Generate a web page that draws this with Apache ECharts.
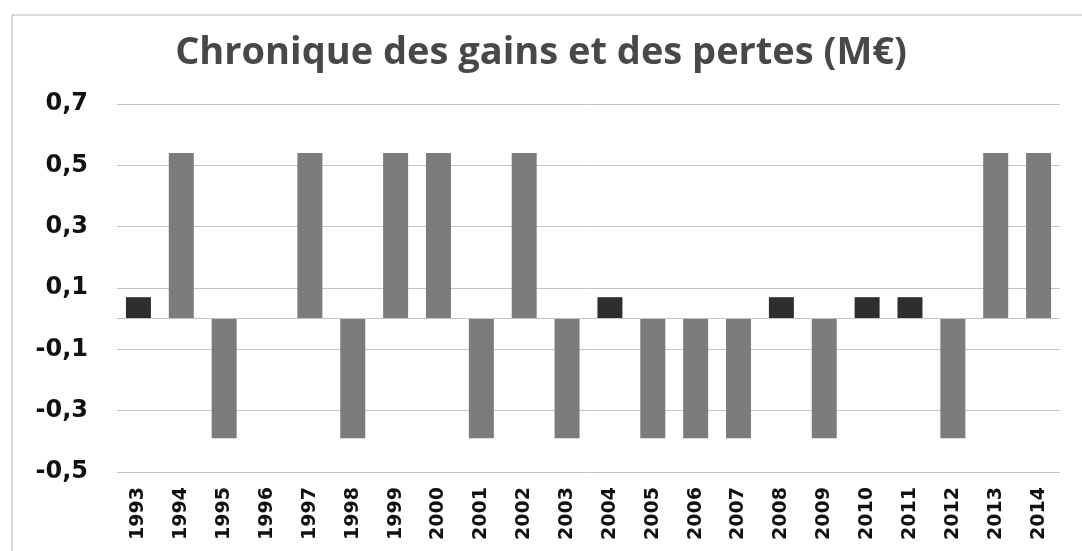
<!DOCTYPE html>
<html>
<head>
<meta charset="utf-8">
<script src="https://cdn.jsdelivr.net/npm/echarts@6/dist/echarts.min.js"></script>
<style>
  html, body { margin: 0; padding: 0; background: #fff; }
  #chart { width: 1082px; height: 551px; }
</style>
</head>
<body>
<div id="chart"></div>
<script>
// années
const annees = ['1993', '1994', '1995', '1996', '1997', '1998', '1999', '2000', '2001', '2002', '2003',
  '2004', '2005', '2006', '2007', '2008', '2009', '2010', '2011', '2012', '2013', '2014']

// gains importants / pertes (barres grises)
const gainsPertes = [null, 0.54, -0.39, null, 0.54, -0.39, 0.54, 0.54, -0.39, 0.54, -0.39,
  null, -0.39, -0.39, -0.39, null, -0.39, null, null, -0.39, 0.54, 0.54]

// petits gains (barres foncées)
const petitsGains = [0.07, null, null, null, null, null, null, null, null, null, null,
  0.07, null, null, null, 0.07, null, 0.07, 0.07, null, null, null]

const yTicks = [-0.5, -0.3, -0.1, 0.1, 0.3, 0.5, 0.7]

const chart = echarts.init(document.getElementById('chart'), null, { renderer: 'canvas' })

chart.setOption({
  animation: false,
  title: {
    text: 'Chronique des gains et des pertes (M€)',
    left: 'center',
    top: 29,
    textStyle: { fontFamily: 'Open Sans', fontWeight: 'bold', fontSize: 38, color: '#484848' }
  },
  graphic: [{
    type: 'rect',
    silent: true,
    shape: { x: 12, y: 15, width: 1100, height: 600 },
    style: { fill: 'none', stroke: '#b5b5b5', lineWidth: 1 }
  }],
  grid: { left: 117, right: 22, top: 104, bottom: 79 },
  xAxis: {
    type: 'category',
    data: annees,
    axisLine: { show: false, onZero: false },
    axisTick: { show: false },
    axisLabel: {
      rotate: 90,
      margin: 15,
      fontFamily: 'DejaVu Sans',
      fontWeight: 'bold',
      fontSize: 19,
      color: '#111'
    }
  },
  yAxis: {
    type: 'value',
    min: yTicks[0],
    max: yTicks[yTicks.length - 1],
    interval: 0.2,
    axisLine: { show: false },
    axisTick: { show: false },
    splitLine: { lineStyle: { color: '#c4c4c4', width: 1 } },
    axisLabel: {
      margin: 29,
      fontFamily: 'DejaVu Sans',
      fontWeight: 'bold',
      fontSize: 24,
      color: '#111',
      formatter: v => v.toFixed(1).replace('.', ',')
    }
  },
  series: [{
    name: 'Gains et pertes',
    type: 'bar',
    stack: 'total',
    barWidth: 25,
    data: gainsPertes,
    itemStyle: { color: '#7c7c7c' },
    markLine: {
      silent: true,
      symbol: 'none',
      label: { show: false },
      lineStyle: { color: '#c4c4c4', type: 'solid', width: 1 },
      data: [{ yAxis: 0 }]
    }
  }, {
    name: 'Petits gains',
    type: 'bar',
    stack: 'total',
    barWidth: 25,
    data: petitsGains,
    itemStyle: { color: '#2e2e2e' }
  }]
})
</script>
</body>
</html>
